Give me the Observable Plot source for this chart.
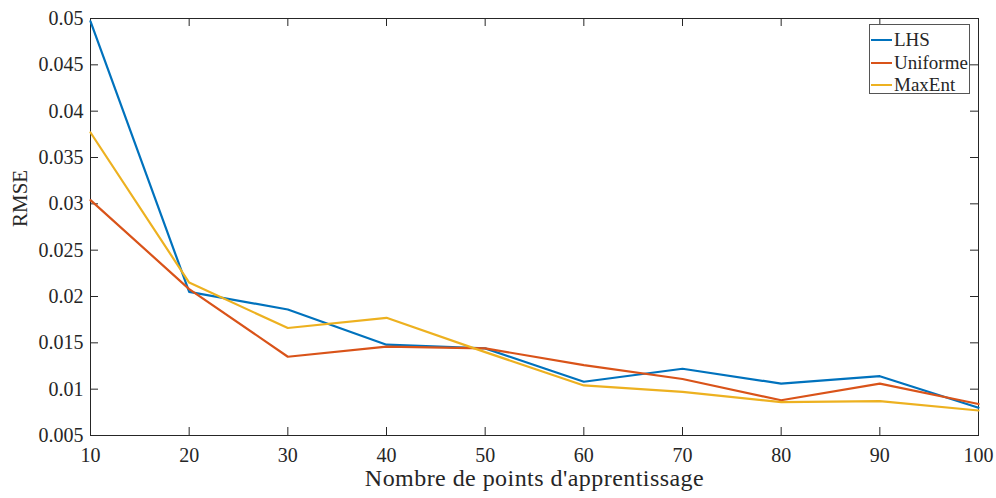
<!DOCTYPE html>
<html>
<head>
<meta charset="utf-8">
<script src="https://cdn.jsdelivr.net/npm/d3@7"></script>
<script src="https://cdn.jsdelivr.net/npm/@observablehq/plot@0.6"></script>
<style>
  html, body { margin: 0; padding: 0; background: #fff; }
  #wrap { position: relative; width: 996px; height: 498px; }
  #legend {
    position: absolute; left: 869px; top: 24px; width: 101px; height: 70px;
    border: 1px solid #555; background: #fff;
    font-family: "Liberation Serif", serif; font-size: 19px; color: #262626;
    box-sizing: border-box;
  }
  .row { position: absolute; left: 1px; height: 22px; display: flex; align-items: center; }
  .sw { width: 21px; height: 2px; margin-right: 2px; }
</style>
</head>
<body>
<div id="wrap"></div>
<script>
const xValues = [10, 20, 30, 40, 50, 60, 70, 80, 90, 100];
const lhs      = [0.0497, 0.0205, 0.0186, 0.0148, 0.0144, 0.0108, 0.0122, 0.0106, 0.0114, 0.0080];
const uniforme = [0.0304, 0.0208, 0.0135, 0.0146, 0.0144, 0.0126, 0.0111, 0.0088, 0.0106, 0.0084];
const maxent   = [0.0377, 0.0215, 0.0166, 0.0177, 0.0140, 0.0104, 0.0097, 0.0086, 0.0087, 0.0077];
const seriesNames = ["LHS", "Uniforme", "MaxEnt"];
const seriesColors = ["#0072BD", "#D95319", "#EDB120"];
const xTicks = [10, 20, 30, 40, 50, 60, 70, 80, 90, 100];
const yTicks = [0.005, 0.01, 0.015, 0.02, 0.025, 0.03, 0.035, 0.04, 0.045, 0.05];
const xLabel = "Nombre de points d'apprentissage";
const yLabel = "RMSE";

const seriesValues = [lhs, uniforme, maxent];
const data = [];
seriesNames.forEach((name, i) => xValues.forEach((x, j) => data.push({series: name, x, y: seriesValues[i][j]})));

const W = 996, H = 498;
const mL = 90, mR = 18, mT = 18, mB = 63;
const plotH = H - mT - mB, plotW = W - mL - mR;
const tickLen = 8;
const axisColor = "#262626";

const chart = Plot.plot({
  width: W, height: H,
  marginLeft: mL, marginRight: mR, marginTop: mT, marginBottom: mB,
  style: {fontFamily: "Liberation Serif, serif", fontSize: "20px", color: axisColor, background: "#fff"},
  x: {domain: [10, 100], label: null},
  y: {domain: [0.005, 0.05], label: null},
  color: {domain: seriesNames, range: seriesColors},
  marks: [
    Plot.frame({stroke: axisColor, strokeWidth: 1}),
    Plot.tickX(xTicks, {x: d => d, stroke: axisColor, insetTop: plotH - tickLen}),
    Plot.tickX(xTicks, {x: d => d, stroke: axisColor, insetBottom: plotH - tickLen}),
    Plot.tickY(yTicks, {y: d => d, stroke: axisColor, insetRight: plotW - tickLen}),
    Plot.tickY(yTicks, {y: d => d, stroke: axisColor, insetLeft: plotW - tickLen}),
    Plot.axisX({ticks: xTicks, tickSize: 0, tickPadding: 12, tickFormat: d => String(d), label: null, fill: axisColor}),
    Plot.axisY({ticks: yTicks, tickSize: 0, tickPadding: 7, tickFormat: d => String(+d.toFixed(3)), label: null, fill: axisColor}),
    Plot.line(data, {x: "x", y: "y", z: "series", stroke: "series", strokeWidth: 2.2}),
    Plot.text([xLabel], {frameAnchor: "bottom", dy: 50, fontSize: 24, fill: axisColor, className: "xlab"}),
    Plot.text([yLabel], {frameAnchor: "left", dx: -70, rotate: -90, fontSize: 21, fill: axisColor})
  ]
});

const wrap = document.getElementById("wrap");
wrap.appendChild(chart);
d3.select(chart).selectAll(".xlab text").style("letter-spacing", "0.45px");

const legend = document.createElement("div");
legend.id = "legend";
seriesNames.forEach((name, i) => {
  const row = document.createElement("div");
  row.className = "row";
  row.style.top = (4 + i * 22.5) + "px";
  const sw = document.createElement("span");
  sw.className = "sw";
  sw.style.background = seriesColors[i];
  const t = document.createElement("span");
  t.textContent = name;
  row.appendChild(sw);
  row.appendChild(t);
  legend.appendChild(row);
});
wrap.appendChild(legend);
</script>
</body>
</html>
